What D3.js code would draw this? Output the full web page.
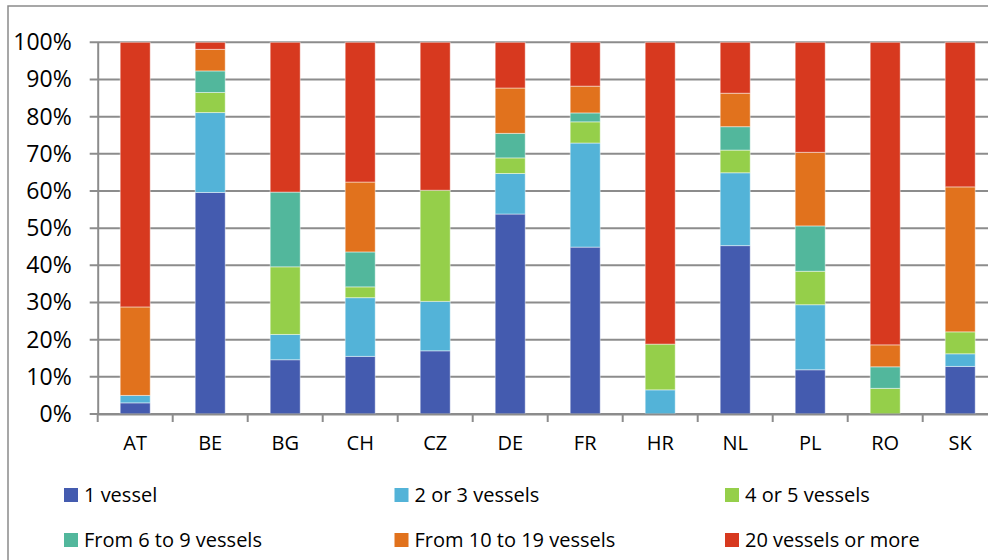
<!DOCTYPE html>
<html>
<head>
<meta charset="utf-8">
<script src="https://cdn.jsdelivr.net/npm/d3@7"></script>
<style>
  body { margin: 0; background: #fff; }
  text { font-family: "Open Sans", sans-serif; fill: #000; }
</style>
</head>
<body>
<div id="chart"></div>
<script>
// categories and series (shares in %)
var countries = ["AT", "BE", "BG", "CH", "CZ", "DE", "FR", "HR", "NL", "PL", "RO", "SK"];
var seriesNames = ["1 vessel", "2 or 3 vessels", "4 or 5 vessels",
                   "From 6 to 9 vessels", "From 10 to 19 vessels", "20 vessels or more"];
var colors = ["#445BAF", "#53B3D8", "#95CF4A", "#52B79C", "#E1721D", "#D7391F"];

var oneVessel     = [3.0, 59.6, 14.6, 15.5, 17.0, 53.8, 44.9, 0.0, 45.3, 11.9, 0.0, 12.8];
var twoThree      = [2.0, 21.5, 6.8, 15.8, 13.3, 10.9, 28.0, 6.5, 19.6, 17.5, 0.0, 3.4];
var fourFive      = [0.0, 5.4, 18.2, 2.9, 29.9, 4.2, 5.7, 12.3, 6.1, 9.0, 6.9, 5.9];
var sixNine       = [0.0, 5.8, 20.1, 9.4, 0.0, 6.6, 2.4, 0.0, 6.3, 12.2, 5.8, 0.0];
var tenNineteen   = [23.8, 5.8, 0.0, 18.8, 0.0, 12.2, 7.2, 0.0, 9.0, 19.8, 5.9, 39.0];
var twentyPlus    = [71.2, 1.9, 40.3, 37.6, 39.8, 12.3, 11.8, 81.2, 13.7, 29.6, 81.4, 38.9];

var yTicks = [0, 10, 20, 30, 40, 50, 60, 70, 80, 90, 100];

var allSeries = [oneVessel, twoThree, fourFive, sixNine, tenNineteen, twentyPlus];

var table = countries.map(function(c, i) {
  var row = {country: c};
  seriesNames.forEach(function(s, k) { row[s] = allSeries[k][i]; });
  return row;
});

var W = 988, H = 560;
var margin = {top: 42.3, left: 97.7},
    width = 900,
    height = 414 - 42.3;

var svg = d3.select("#chart").append("svg")
    .attr("width", W)
    .attr("height", H);

// outer frame (left and top edges visible)
svg.append("path")
    .attr("d", "M8,560V6H988")
    .attr("fill", "none")
    .attr("stroke", "#8a8a8a")
    .attr("stroke-width", 1.5);

var g = svg.append("g")
    .attr("transform", "translate(" + margin.left + "," + margin.top + ")");

var x = d3.scaleBand().domain(countries).range([0, width]).paddingInner(0.6).paddingOuter(0.3);
var xb = d3.scaleBand().domain(countries).range([0, width]);
var y = d3.scaleLinear().domain([0, 100]).range([height, 0]);

// gridlines
g.append("g")
  .selectAll("line")
  .data(yTicks)
  .join("line")
    .attr("x1", -8)
    .attr("x2", width)
    .attr("y1", function(d) { return y(d); })
    .attr("y2", function(d) { return y(d); })
    .attr("stroke", "#8c8c8c")
    .attr("stroke-width", 2);

// y axis
var yAxis = d3.axisLeft(y)
    .tickValues(yTicks)
    .tickFormat(function(d) { return d + "%"; })
    .tickSize(0)
    .tickPadding(26);
var ya = g.append("g").call(yAxis);
ya.select(".domain").attr("stroke", "#8c8c8c").attr("stroke-width", 2);
ya.selectAll("text").style("font-size", "23px").attr("fill", "#000");

// stacked bars
var stack = d3.stack().keys(seriesNames);
var layers = stack(table);

g.append("g")
  .selectAll("g")
  .data(layers)
  .join("g")
    .attr("fill", function(d, i) { return colors[i]; })
  .selectAll("rect")
  .data(function(d) { return d; })
  .join("rect")
    .attr("x", function(d) { return x(d.data.country); })
    .attr("width", x.bandwidth())
    .attr("y", function(d) { return y(d[1]); })
    .attr("height", function(d) { return y(d[0]) - y(d[1]); })
    .attr("stroke", "rgba(255,255,255,0.45)")
    .attr("stroke-width", 1);

// x axis
var xAxis = d3.axisBottom(xb).tickSize(0).tickPadding(22);
var xa = g.append("g")
    .attr("transform", "translate(0," + height + ")")
    .call(xAxis);
xa.select(".domain").attr("stroke", "#8c8c8c").attr("stroke-width", 2);
xa.selectAll("text").style("font-size", "20px").attr("fill", "#000");

// category boundary ticks
xa.append("g")
  .selectAll("line")
  .data(countries)
  .join("line")
    .attr("x1", function(d) { return xb(d); })
    .attr("x2", function(d) { return xb(d); })
    .attr("y1", 0)
    .attr("y2", 8)
    .attr("stroke", "#8c8c8c")
    .attr("stroke-width", 2);

// legend
var legend = svg.append("g");
var item = legend.selectAll("g")
  .data(seriesNames)
  .join("g")
    .attr("transform", function(d, i) {
      return "translate(" + (64 + (i % 3) * 330.5) + "," + (488 + Math.floor(i / 3) * 45) + ")";
    });
item.append("rect")
    .attr("width", 14)
    .attr("height", 14)
    .attr("fill", function(d, i) { return colors[i]; });
item.append("text")
    .attr("x", 20)
    .attr("y", 7)
    .attr("dy", "0.36em")
    .style("font-size", "20px")
    .text(function(d) { return d; });
</script>
</body>
</html>
